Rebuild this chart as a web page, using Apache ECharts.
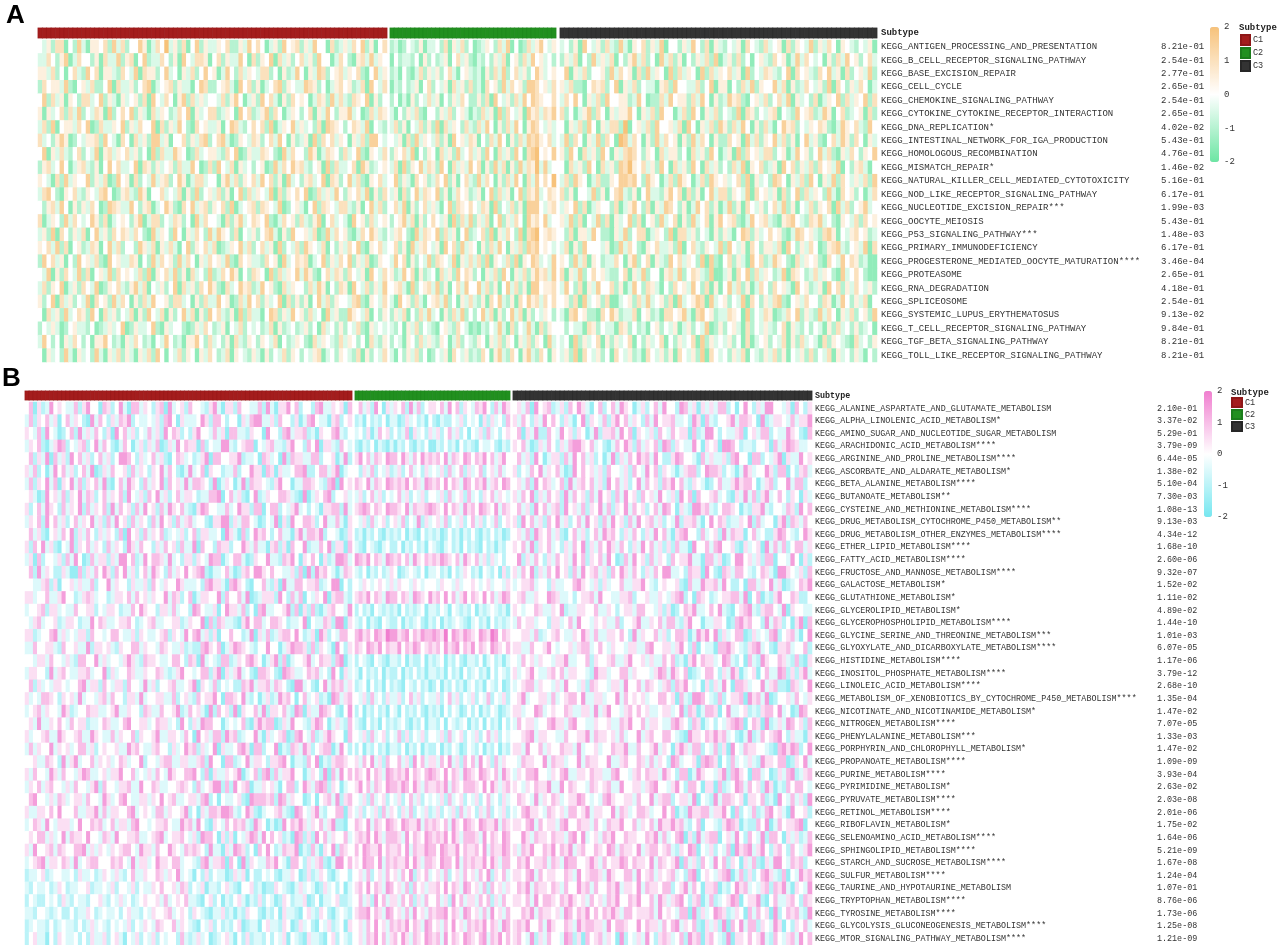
<!DOCTYPE html>
<html><head><meta charset="utf-8">
<script src="https://cdn.jsdelivr.net/npm/echarts@6/dist/echarts.min.js"></script>
<style>html,body{margin:0;padding:0;background:#fff}#c{width:1279px;height:945px}</style>
</head><body><div id="c"></div>
<script>
const subtypes = ['C1', 'C2', 'C3'];
const subtypeColors = ['#A41D1D', '#21901F', '#333333'];
const colorbarTicks = [-2, -1, 0, 1, 2];

const pathwaysA = ['KEGG_ANTIGEN_PROCESSING_AND_PRESENTATION','KEGG_B_CELL_RECEPTOR_SIGNALING_PATHWAY','KEGG_BASE_EXCISION_REPAIR','KEGG_CELL_CYCLE','KEGG_CHEMOKINE_SIGNALING_PATHWAY','KEGG_CYTOKINE_CYTOKINE_RECEPTOR_INTERACTION','KEGG_DNA_REPLICATION*','KEGG_INTESTINAL_NETWORK_FOR_IGA_PRODUCTION','KEGG_HOMOLOGOUS_RECOMBINATION','KEGG_MISMATCH_REPAIR*','KEGG_NATURAL_KILLER_CELL_MEDIATED_CYTOTOXICITY','KEGG_NOD_LIKE_RECEPTOR_SIGNALING_PATHWAY','KEGG_NUCLEOTIDE_EXCISION_REPAIR***','KEGG_OOCYTE_MEIOSIS','KEGG_P53_SIGNALING_PATHWAY***','KEGG_PRIMARY_IMMUNODEFICIENCY','KEGG_PROGESTERONE_MEDIATED_OOCYTE_MATURATION****','KEGG_PROTEASOME','KEGG_RNA_DEGRADATION','KEGG_SPLICEOSOME','KEGG_SYSTEMIC_LUPUS_ERYTHEMATOSUS','KEGG_T_CELL_RECEPTOR_SIGNALING_PATHWAY','KEGG_TGF_BETA_SIGNALING_PATHWAY','KEGG_TOLL_LIKE_RECEPTOR_SIGNALING_PATHWAY'];
const pvalsA = ['8.21e-01','2.54e-01','2.77e-01','2.65e-01','2.54e-01','2.65e-01','4.02e-02','5.43e-01','4.76e-01','1.46e-02','5.16e-01','6.17e-01','1.99e-03','5.43e-01','1.48e-03','6.17e-01','3.46e-04','2.65e-01','4.18e-01','2.54e-01','9.13e-02','9.84e-01','8.21e-01','8.21e-01'];
// score level per sample: digit d -> (d-4)/2 ; groups C1 | C2 | C3
const scoresA = [
'4352661427 3155462736 2447513648 3526147253 3546225374 6413527456 2537441623 5364725146|2312432513 3426153624 1235426371 4126357435|3425174352 6327315462 5371442537 426153 2435164326 3451625437 2536415432 4351',
'3364257136 4425163372 5614723364 2517436651 4625337416 2547163524 6352744136 4215637354|1423324152 4235146352 1324253614 5263745342|2536142735 3614257362 4173625142 536271 3526241453 2645137364 3415263745 2463',
'5536241463 2746155326 4371655247 3415362474 5137426354 3662415237 4153762456 3546214735|2314213625 3524631453 2315263724 6352475345|4715362445 2736451627 3541726354 172635 4635172436 5324716453 2647351624 5372',
'2645537214 5362247163 3524671345 6253314762 2456317462 5134672543 3765241356 4523617436|1324235146 2435163526 2316452736 4527764536|5362214656 2471536243 3156274433 624715 5142637254 4736152364 3527164253 6413',
'4726351542 6634725315 3452617436 4157263534 4362574135 2746315264 5413652736 3265471524|2413152436 3514253642 2526174352 6374765446|3647415362 7445523741 2263745526 374152 3756214536 2463715342 6135472635 4726',
'5153462637 2436517246 4725316354 2364715346 6235417462 3572641354 2461537425 5734126365|3142536214 4253624531 3263517264 3517563657|6241357264 1535574153 6274413627 415362 4327165243 5614327456 2375146234 5162',
'3627145536 4712633547 2536447162 5374216453 3514763246 4627135473 5342617654 2465371432|3625143625 2716354263 2637415263 7415764353|4153627415 3662814536 2744536174 153627 5263741526 3147562435 4652137546 3274',
'6342575124 3556274316 4163527735 1446253672 4673125436 5246374152 3517264635 4153627743|4351627354 3625174536 5142637415 2637675463|3726415372 6418736415 2736451527 364152 2645173625 4736251473 5214637526 4153',
'4715363246 2437156354 6352417263 3754126345 5326471253 3654217364 4275136542 6347215436|2546371425 4163527346 3527416352 7416784547|5274163527 4153676425 4163552416 352741 3517264536 6245137452 4736215364 2547',
'2563474135 6325147463 3471652534 5263374126 2743615342 4512736475 6324517263 3461752345|3617254736 5274163537 4615273615 2736583734|4163527416 3527685463 5274163527 416352 4263715462 3517462536 2645371425 6314',
'5431627354 4725361274 5162437356 2475136634 4157362546 3746251734 2563471652 4736215463|4725316452 3647251463 2736415263 7416374648|3627541362 2547767427 5413627541 362754 5346271534 2764153627 4153726435 3627',
'3674215463 2543674125 6327514463 4361527245 3625147263 5437162546 4712635374 2546371526|3516247365 4725136452 3514726351 4726573465|6251443725 1467325147 3325746162 514736 6254371645 3516247263 5427316452 4136',
'4256374152 5364127653 3742561347 5216473562 5462713456 2654371245 3147265436 6325147362|4637152463 5314726546 4365172436 2517774356|3547261354 4261357426 1537642513 746251 3725164352 4637251436 2546173624 5734',
'6135427364 3475261345 4257136624 3652417364 4316257346 5472136452 6325714634 3174526345|2457361524 6435172637 2536147253 6417564734|5372614372 6153472614 5273461527 346157 4562137456 3215674326 5734215436 2645',
'3527164253 6147352646 5364217354 2741536427 3754261435 2467315274 4536127364 5213647532|3564217365 4726351472 3462715364 2716784565|4261553742 2153724661 3542716635 243152 5314762534 6452137645 3267514356 4523',
'5463726145 2365147362 4427536153 6314725463 6123547362 4635172436 2754361425 3647215463|4625173564 3517462735 4152637415 3627674543|3615274443 5127364215 4633527146 325437 2743516425 5361742536 4125673245 3716',
'2746351427 4536217453 3651427364 5273641536 4537216453 3264517346 5613472536 4725361254|3746152437 2654371536 3627154362 7154763437|5427361542 3364157246 1532746354 271721 4625317462 3754216354 5216437465 2311',
'4371526437 2614537264 5436271546 3725163427 2364751426 5417263547 3752146365 2643517436|5237461523 4163527465 2415362741 5362575637|6153724645 3224615372 4415637246 532711 3516472635 4237165423 6354217346 4211',
'3625471352 6437125463 2573614352 4716352647 5216347562 3745216354 4263751426 5174362537|4563172456 3725146374 4736251473 6251774556|3742615374 4625137426 5314264537 426151 4736251364 2645317452 3517462536 4352',
'5247163524 3716452736 4152637445 2663415263 3745126374 6253471625 2514736254 4367215436|3174526314 5637241536 3251647325 1647563646|4526173452 6113452637 3452617345 761734 5243716425 3672145364 4265137425 3614',
'4163527346 5274163524 3615274361 5247361527 4632517263 3147625374 5263417352 2754361425|2536142637 3415263724 2473615247 3615243542|3167452216 4752336145 2316645731 674523 3654172436 5123647253 2736415362 4527',
'2435312453 3241235347 1253347215 3442125364 2351436243 4236152342 3524163425 2436215343|3241536243 2145326431 2132437316 2437316254|4243316524 3316524231 4524351352 437125 2453162435 3246153242 4315263425 2341',
'3742415364 2415574231 5364231437 4231557426 3425163254 2543614235 4216354326 3542416325|2431542635 3254136243 2541536254 1536254173|3417253461 5253461425 3461425346 172534 3524161345 2436152634 3162543216 3425',
'4153427315 3427315362 5315362741 4362541536 4236154325 3152436254 2435613425 4326152436|3142536241 2435164352 3264157326 4157326415|3527164352 4164352316 4352516435 271643 4253614325 3625143526 2436153425 3142'
];

const pathwaysB = ['KEGG_ALANINE_ASPARTATE_AND_GLUTAMATE_METABOLISM','KEGG_ALPHA_LINOLENIC_ACID_METABOLISM*','KEGG_AMINO_SUGAR_AND_NUCLEOTIDE_SUGAR_METABOLISM','KEGG_ARACHIDONIC_ACID_METABOLISM****','KEGG_ARGININE_AND_PROLINE_METABOLISM****','KEGG_ASCORBATE_AND_ALDARATE_METABOLISM*','KEGG_BETA_ALANINE_METABOLISM****','KEGG_BUTANOATE_METABOLISM**','KEGG_CYSTEINE_AND_METHIONINE_METABOLISM****','KEGG_DRUG_METABOLISM_CYTOCHROME_P450_METABOLISM**','KEGG_DRUG_METABOLISM_OTHER_ENZYMES_METABOLISM****','KEGG_ETHER_LIPID_METABOLISM****','KEGG_FATTY_ACID_METABOLISM****','KEGG_FRUCTOSE_AND_MANNOSE_METABOLISM****','KEGG_GALACTOSE_METABOLISM*','KEGG_GLUTATHIONE_METABOLISM*','KEGG_GLYCEROLIPID_METABOLISM*','KEGG_GLYCEROPHOSPHOLIPID_METABOLISM****','KEGG_GLYCINE_SERINE_AND_THREONINE_METABOLISM***','KEGG_GLYOXYLATE_AND_DICARBOXYLATE_METABOLISM****','KEGG_HISTIDINE_METABOLISM****','KEGG_INOSITOL_PHOSPHATE_METABOLISM****','KEGG_LINOLEIC_ACID_METABOLISM****','KEGG_METABOLISM_OF_XENOBIOTICS_BY_CYTOCHROME_P450_METABOLISM****','KEGG_NICOTINATE_AND_NICOTINAMIDE_METABOLISM*','KEGG_NITROGEN_METABOLISM****','KEGG_PHENYLALANINE_METABOLISM***','KEGG_PORPHYRIN_AND_CHLOROPHYLL_METABOLISM*','KEGG_PROPANOATE_METABOLISM****','KEGG_PURINE_METABOLISM****','KEGG_PYRIMIDINE_METABOLISM*','KEGG_PYRUVATE_METABOLISM****','KEGG_RETINOL_METABOLISM****','KEGG_RIBOFLAVIN_METABOLISM*','KEGG_SELENOAMINO_ACID_METABOLISM****','KEGG_SPHINGOLIPID_METABOLISM****','KEGG_STARCH_AND_SUCROSE_METABOLISM****','KEGG_SULFUR_METABOLISM****','KEGG_TAURINE_AND_HYPOTAURINE_METABOLISM','KEGG_TRYPTOPHAN_METABOLISM****','KEGG_TYROSINE_METABOLISM****','KEGG_GLYCOLYSIS_GLUCONEOGENESIS_METABOLISM****','KEGG_MTOR_SIGNALING_PATHWAY_METABOLISM****'];
const pvalsB = ['2.10e-01','3.37e-02','5.29e-01','3.79e-09','6.44e-05','1.38e-02','5.10e-04','7.30e-03','1.08e-13','9.13e-03','4.34e-12','1.68e-10','2.60e-06','9.32e-07','1.52e-02','1.11e-02','4.89e-02','1.44e-10','1.01e-03','6.07e-05','1.17e-06','3.79e-12','2.68e-10','1.35e-04','1.47e-02','7.07e-05','1.33e-03','1.47e-02','1.09e-09','3.93e-04','2.63e-02','2.03e-08','2.01e-06','1.75e-02','1.64e-06','5.21e-09','1.67e-08','1.24e-04','1.07e-01','8.76e-06','1.73e-06','1.25e-08','1.21e-09'];
const scoresB = [
'4615237454 3362574416 5247316635 4256173452 6443257315 5264433627 3155746244 2673354516|4635274153 5462736245 5463746254 3657426375|4536174562 3526475314 6246375413 524637 4427635153 5366241474 2537744351 6425',
'3625463514 6354217364 2536572433 4352674153 3347526642 4415367733 5264425136 7433156245|2314232413 3125342314 2132243524 3415253426|5364253746 4253147254 3625746354 263745 5633427516 3244573665 4172355436 3557',
'5436274312 4627353642 5174635243 6352746524 2574436351 6633254417 4426735562 3154467324|3425136452 4236153425 3524635241 4352634245|4615372264 3745254137 2556374615 435264 3645516237 7424335614 5366243375 4216',
'3546213576 2435624736 4213641352 5361253746 5516243377 3245661435 6332574426 4715532643|2132413213 1324213241 1324231423 2143342132|5463125364 2536775463 4213647526 354627 6254337415 4517764233 2445163576 5334',
'4625371635 2746352463 5247764253 4635214653 4235716644 5572334165 3417265533 6624451372|5746365476 6475364756 5647365476 4657463574|4635274135 5263746352 4137253647 563742 2576443163 5335267441 6624357153 3745',
'5362413746 3524637125 3644526354 2547364213 7346154423 3624475516 5153346672 2466357134|4253624352 3524634253 4352634625 3462453634|5243647354 6312746453 5264435264 374625 4313566247 6652431375 3447526614 2563',
'3625473615 4736254637 2146375426 3547264537 3665427135 4137265543 2574413366 5432671745|6547365476 5657465376 5647465376 4657356476|4536274653 4627356463 5274635247 364526 5746325431 2463357566 4135624473 6624',
'4531274536 2547365246 3546274352 6473524635 5423366714 6352147235 4466532171 3546724453|3524635243 4635243524 4352634526 3425463543|5364725364 5273645263 7452637452 645374 3527461644 5634215373 6257346425 4153',
'5246375426 3547263546 2736452637 4526375463 2157644336 3475526614 6624357342 4315566273|5676465476 6547365567 6547465375 6476547365|4635274635 6274536254 7362547364 524637 6415327756 3246654132 5573244365 2746',
'3546274635 2463547352 6374526354 2637452635 6344215577 2536643124 3715274466 5247336315|4352634524 5362437253 4536243524 6352436245|5274635264 7352463745 2637452637 456352 4372556314 7465233547 2634415726 5364',
'4635214536 4725364253 5426174526 3546234352 4625533417 5316247564 2463315736 6572443125|2313242132 3241321423 2312423132 4213242312|4536275463 5214635246 3756425364 253746 3156744263 4527365514 6342257643 2475',
'5264735214 3725463542 6354275364 4253645263 3716442655 2447536331 5625164472 3364725516|3214321342 2413242314 3213423142 3214231324|5463725463 4253647253 6475364253 746352 5263317446 3674452153 4517363624 6635',
'3516244352 6374126355 2537746237 4665373425 5254376613 4663125447 3326574154 6415237763|7657465376 5646375465 6576546375 4635253424|4725364253 6453746254 6374126374 526354 2645573316 6351247745 3526614437 4152',
'4627354225 3116253647 5264735246 3754263547 4567213346 3125647754 6443352617 2756431365|3241324235 4123432413 3423142354 2314324152|5364725364 7452637456 3526475364 253647 7334265517 4216536643 2465317754 3526',
'4433562514 4535336244 7354425335 2643544753 3342675531 6754214463 2517336645 5623477142|4354345435 3544354344 4354435344 5434534435|3455634425 3344675435 2534463355 743245 4452163375 5637422416 6354735123 4657',
'5534463357 4423565344 2355463645 3544736524 6135544726 4463712355 5274263614 3547156632|5657465376 6465376547 5647463574 6547463576|4563354476 5334245563 7443355624 453354 3567241654 2345566371 4613257446 5224',
'3445625534 3364455243 5542336475 4425536344 2764335147 5536241673 3445726152 6213564437|2423143232 3142323413 3243143232 4132343231|5434465335 4723355446 3354245536 644352 5124657334 6473214567 3256643715 4433',
'4356344523 5542337465 3345564234 5633445523 5447162653 3215746634 6654233471 4336527715|3241321432 2413234213 2413234321 3423142323|3645534425 5346374435 4533624457 335463 6632574413 3554126756 4427365241 5716',
'5523446735 3435526443 4664335254 3345625437 4673525144 6442371536 2356647423 5175243664|6756476587 7567465766 7658476576 5476587465|4455362345 6433547536 3355464273 544635 2466513757 4725346612 5343672456 3147',
'3364455326 4453372554 5325446635 4436543352 3226754613 5765432447 4413576652 6254317425|6547657465 5746576456 5647567465 7465476546|5533644574 3445356634 6435443553 367445 5357426143 3166754325 6734215563 4462',
'4435536443 5326644735 3443575326 5543346642 6517343266 2354675413 5726134457 3465526713|2432143213 3241322413 2341324213 3241342313|4364535443 5573344625 4456335744 535336 4623157465 5347632416 3275446532 6215',
'3554427356 4335563447 2534465335 4465323574 4346625715 3573421665 4217653346 5634274153|3142324132 2413242313 3231423142 3423142432|5345743356 4635544327 5534466354 443576 3754612346 6425375134 5146337625 2573',
'4625343554 3446735526 4355264437 3524456334 5715436243 4226573556 3654217734 2147365635|2341423142 3214324231 2413242313 4231432412|3456635443 5374435265 4435537446 365435 6265743415 2537416653 4473562216 5347',
'5343665425 4537344356 3644255373 4455336245 3264557416 6547324135 2375641463 4523176356|4352634253 3524635243 3524635243 5243624352|4573445536 3456647335 5344736454 534466 4516327764 3262455617 5637124453 6435',
'3456354437 5234465533 4573354426 5336445723 6453172645 2715446372 5546327615 3376542147|2413242314 3142324213 2314243124 2413243123|5534476345 4465335537 3574435646 453345 5347265136 6514733452 3256647341 2764',
'4537335464 3645523346 5334674455 3465534274 2537664413 4346215756 6125374432 5764135326|3214231423 2342132413 3241432341 3241423142|3645534467 5536744335 4453365744 635543 3675426513 4243567614 6517235376 4526',
'5344563375 4456337543 3635446254 4573355436 4174536627 5623447315 3456126743 6235754416|4352634524 3625243524 4352634524 3524635243|4456735544 3364455736 5545363447 356446 6432175546 5756342137 2364567425 3315',
'3635447354 5346635245 4453375643 3564425347 5625347153 3467516624 4713265375 2456613742|2413242313 3241324132 2413243124 3241324132|5537446354 4655373445 3446557336 445735 4157536624 3625174365 5443216757 6247',
'4453365427 3573446354 5346534472 4435663355 3356274416 6234735542 5567413326 4713256654|5364735264 4635274635 5364735264 6374526354|4365544736 5534473655 4473356446 536354 2763445167 6514263435 3275546612 5473',
'5364437536 4435763345 3557446343 5364375446 6742615335 4571346267 2635574413 5427163746|6547465376 5657465467 6547465376 5476546375|3546674435 4673355465 5336744356 465537 5426613754 4357267541 6634125367 2356',
'3546356443 5364435726 4435563374 4653344565 4263457726 2745613354 5314662475 3676254134|5746365476 6576475365 5657365466 6547475356|5435465573 3746544365 4563374455 356744 3574266415 5162347636 4527513264 6643',
'4674435365 3455364437 5346743355 3547456334 5536724143 3452176665 6276354412 4145637256|4352634524 3524635243 4352634524 3524634253|4654373546 5345576434 3675445536 447356 6245537143 2736654515 5462317436 3527',
'5335546474 4463355736 3554467345 4366354457 2415366577 6324752134 4563217643 5732446615|3524352635 4253624352 3524352635 4253624352|3467554365 4536645735 5447365346 653447 4613275566 3557416243 6236745317 4452',
'3465374355 5347446563 4635536744 3455643375 6374215436 4656327541 3127465753 5463572214|6547365476 5476557365 6546375476 5476557365|5546736455 3674465536 4365574463 546375 5756324614 4325765132 2647136455 6714',
'4546635347 3655474436 5374455633 4567345564 3527664152 5143576374 6452317625 2746354463|5657475366 6537465476 5657475366 6537465476|4475365546 5536747345 3657446554 465736 3467152735 6614537426 4372664153 5236',
'5374456365 4466735354 3545664375 5364475436 5654273315 3765241647 4236557132 6315472654|6476557465 5647365576 6476557465 5647365576|5365744657 4657356446 5476365547 356645 6325476143 5243617567 3574256426 4357',
'3456735546 5373456644 4656437355 3475546634 4326735561 6417254336 5743166425 3562137746|5476647365 6557475366 5476647365 6557475366|4657455636 5376644575 3645576465 547365 4571635264 3746254153 6215377436 5624',
'2334523443 3425334235 4353246335 4465354734 3142524331 2535142243 4213354125 2354213442|4536245364 5364725463 4536245364 5364725463|5546736455 4465374566 5375446637 456354 5634267145 4356713625 2467532614 3756',
'3243342354 2334452334 3524435243 3546445365 2435133245 3214452312 2543213534 3125342413|5647465376 4536264535 5647465376 4536264535|4657365546 5364475636 4465735547 365546 6245736415 5613247563 4356265731 5437',
'2432243425 3243324453 2435342345 4453634546 3321452413 2453132524 3125423351 2413345223|4635274635 5364625364 4635274635 5364625364|5546374665 4657545364 5365744657 446375 3567425613 6234576145 5721463356 4265',
'3324432342 2423354234 3342453324 3544563454 2543213352 3132544213 2415332145 3254213432|5667465376 4536374536 5667465376 4536374536|4465736554 5376465746 4657536645 556374 5436617253 4765235416 3645172465 6327',
'2343324234 3324235343 2434352435 4365446354 3214352423 2451233145 3325412534 2143523415|4536474536 5657465376 4536474536 5657465376|5657446375 4465375665 5374665447 465536 4673546215 3527164736 6254375142 5463',
'2453314254 3342425335 2453143524 3524344263 2353412345 3142523324 2435143215 3321452432|4536574635 6475365476 5637465476 5467365746|5643725364 4376251645 6354172435 374256 5346275615 6432715546 4573264356 3746'
];

function decode(rows) {
  return rows.map(r => r.split('|').map(s => s.replace(/\s+/g, '').split('').map(c => (parseInt(c, 10) - 4) / 2)));
}

const MONO = "'Liberation Mono', 'Courier New', monospace";
const panels = [
  { letter: 'A', names: pathwaysA, pvals: pvalsA, rows: decode(scoresA),
    cols: [[38, 387], [390, 556], [560, 877]], annTop: 28, annH: 10, heatTop: 40, heatH: 322,
    font: 9, labelGap: 4, pvalX: 1161, colors: ['#6CE5A3', '#FFFFFF', '#F7C27A'],
    bar: { left: 1210, top: 27, w: 9, h: 135 }, letterPos: { left: 6, top: 3 },
    legendPos: { left: 1240, top: 34, w: 9, h: 10 }, headPos: { left: 1239, top: 23 } },
  { letter: 'B', names: pathwaysB, pvals: pvalsB, rows: decode(scoresB),
    cols: [[25, 352], [355, 510], [513, 812]], annTop: 391, annH: 9, heatTop: 402, heatH: 543,
    font: 8.4, labelGap: 3, pvalX: 1157, colors: ['#76E7F0', '#FFFFFF', '#F07ECF'],
    bar: { left: 1204, top: 391, w: 8, h: 126 }, letterPos: { left: 2, top: 366 },
    legendPos: { left: 1231, top: 397, w: 10, h: 9 }, headPos: { left: 1231, top: 388 } }
];
const darker = ['#8E1717', '#1B7D1B', '#262626'];

const grid = [], xAxis = [], yAxis = [], series = [], visualMap = [], title = [], legend = [];
const hidden = { show: false };

panels.forEach(P => {
  const heatIdx = [];
  const lab = { fontFamily: MONO, fontSize: P.font, color: '#333' };
  P.cols.forEach((range, g) => {
    const [x0, x1] = range;
    const ncol = Math.max(...P.rows.map(r => r[g].length));
    const xcats = Array.from({ length: ncol }, (_, i) => String(i));
    grid.push({ left: x0, top: P.annTop, width: x1 - x0, height: P.annH });
    let gi = grid.length - 1;
    xAxis.push({ type: 'category', gridIndex: gi, data: xcats, show: false });
    yAxis.push({ type: 'category', gridIndex: gi, data: ['Subtype'], show: g === 2, position: 'right',
      axisLine: hidden, axisTick: hidden, splitLine: hidden,
      axisLabel: { margin: P.labelGap, fontWeight: 'bold', color: '#222', fontFamily: MONO, fontSize: P.font } });
    series.push({ type: 'heatmap', name: subtypes[g], xAxisIndex: xAxis.length - 1, yAxisIndex: yAxis.length - 1,
      data: xcats.map((c, i) => [i, 0, 1]),
      itemStyle: { color: subtypeColors[g], borderColor: darker[g], borderWidth: 0.3 },
      emphasis: { disabled: true }, silent: true });
    grid.push({ left: x0, top: P.heatTop, width: x1 - x0, height: P.heatH });
    gi = grid.length - 1;
    xAxis.push({ type: 'category', gridIndex: gi, data: xcats, show: false });
    yAxis.push({ type: 'category', gridIndex: gi, data: P.names, inverse: true, show: g === 2, position: 'right',
      axisLine: hidden, axisTick: hidden, splitLine: hidden,
      axisLabel: Object.assign({ interval: 0, margin: P.labelGap }, lab) });
    const yIdx = yAxis.length - 1;
    if (g === 2) {
      yAxis.push({ type: 'category', gridIndex: gi, data: P.pvals, inverse: true, position: 'right',
        offset: P.pvalX - x1 - P.labelGap, axisLine: hidden, axisTick: hidden, splitLine: hidden,
        axisLabel: Object.assign({ interval: 0, margin: P.labelGap }, lab) });
    }
    const data = [];
    P.rows.forEach((r, ri) => r[g].forEach((v, ci) => data.push([ci, ri, v])));
    series.push({ type: 'heatmap', xAxisIndex: xAxis.length - 1, yAxisIndex: yIdx, data,
      progressive: 0, emphasis: { disabled: true }, silent: true });
    heatIdx.push(series.length - 1);
  });
  visualMap.push({ type: 'continuous', min: -2, max: 2, dimension: 2, seriesIndex: heatIdx,
    left: P.bar.left, top: P.bar.top, itemWidth: P.bar.w, itemHeight: P.bar.h,
    calculable: false, hoverLink: false, padding: 0, orient: 'vertical', text: null,
    inRange: { color: P.colors } });
  grid.push({ left: P.bar.left, top: P.bar.top, width: P.bar.w, height: P.bar.h });
  const gi = grid.length - 1;
  xAxis.push({ type: 'value', gridIndex: gi, show: false, min: 0, max: 1 });
  yAxis.push({ type: 'value', gridIndex: gi, min: colorbarTicks[0], max: colorbarTicks[colorbarTicks.length - 1],
    interval: 1, position: 'right', axisLine: hidden, axisTick: hidden, splitLine: hidden,
    axisLabel: Object.assign({ margin: 5 }, lab, { fontSize: 9 }) });
  title.push({ text: P.letter, left: P.letterPos.left, top: P.letterPos.top, padding: 0,
    textStyle: { fontSize: 26, fontWeight: 'bold', fontFamily: "'Liberation Sans', Arial, sans-serif", color: '#000' } });
  title.push({ text: 'Subtype', left: P.headPos.left, top: P.headPos.top, padding: 0,
    textStyle: { fontSize: 9, fontWeight: 'bold', fontFamily: MONO, color: '#222' } });
  legend.push({ data: subtypes, orient: 'vertical', left: P.legendPos.left, top: P.legendPos.top, padding: 0,
    icon: 'rect', itemWidth: P.legendPos.w, itemHeight: P.legendPos.h, itemGap: 1, selectedMode: false,
    textStyle: { fontFamily: MONO, fontSize: 8.5, color: '#333', padding: [0, 0, 0, -2] } });
});

const chart = echarts.init(document.getElementById('c'), null, { renderer: 'canvas' });
chart.setOption({ backgroundColor: '#fff', animation: false, grid, xAxis, yAxis, series, visualMap, title, legend });
</script>
</body></html>
